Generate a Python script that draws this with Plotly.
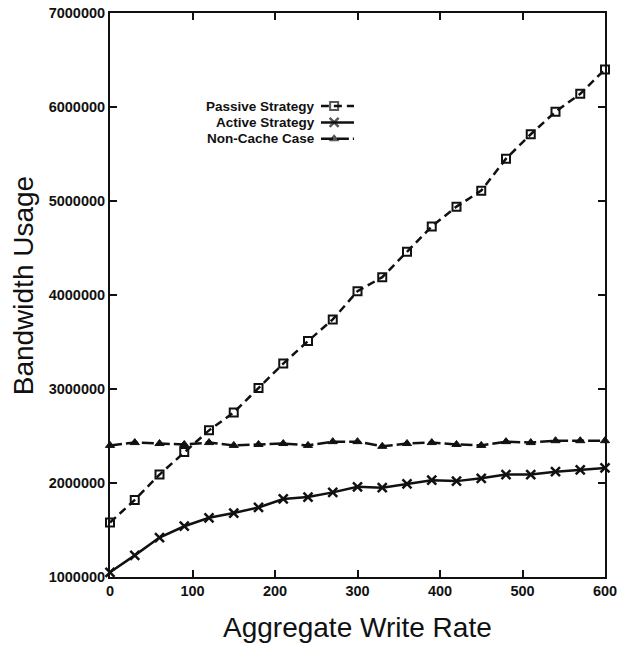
import plotly.graph_objects as go

# Aggregate write rate (x) and bandwidth usage for each strategy
write_rate = [0, 30, 60, 90, 120, 150, 180, 210, 240, 270, 300,
              330, 360, 390, 420, 450, 480, 510, 540, 570, 600]

passive = [1580000, 1820000, 2090000, 2330000, 2560000, 2750000, 3010000,
           3270000, 3510000, 3740000, 4040000, 4190000, 4460000, 4730000,
           4940000, 5110000, 5450000, 5710000, 5950000, 6140000, 6400000]

active = [1050000, 1230000, 1420000, 1540000, 1630000, 1680000, 1740000,
          1830000, 1850000, 1900000, 1960000, 1950000, 1990000, 2030000,
          2020000, 2050000, 2090000, 2090000, 2120000, 2140000, 2160000]

non_cache = [2400000, 2430000, 2420000, 2410000, 2430000, 2400000, 2410000,
             2420000, 2400000, 2440000, 2440000, 2390000, 2420000, 2430000,
             2410000, 2400000, 2440000, 2430000, 2450000, 2450000, 2450000]

series_names = ["Passive Strategy", "Active Strategy", "Non-Cache Case"]

x_ticks = [0, 100, 200, 300, 400, 500, 600]
y_ticks = [1000000, 2000000, 3000000, 4000000, 5000000, 6000000, 7000000]

x_title = "Aggregate Write Rate"
y_title = "Bandwidth Usage"

FONT = "Liberation Sans, Arial, Helvetica, sans-serif"
INK = "#111111"

styles = [
    dict(dash="8px,5px", symbol="square-open", size=8, mline=2),
    dict(dash="solid", symbol="x-thin-open", size=9, mline=2.5),
    dict(dash="12px,4px", symbol="triangle-up", size=8, mline=1),
]

fig = go.Figure()

for name, ys, st in zip(series_names, [passive, active, non_cache], styles):
    fig.add_trace(go.Scatter(
        x=write_rate, y=ys, mode="lines+markers", name=name,
        line=dict(color=INK, width=2.5, dash=st["dash"]),
        marker=dict(symbol=st["symbol"], size=st["size"], color=INK,
                    line=dict(color=INK, width=st["mline"])),
        showlegend=False, cliponaxis=False,
    ))

# Key: labels right-aligned, sample line with marker to their right
key_x0, key_x1 = 0.426, 0.493
key_top, key_step = 0.835, 0.029
for i, (name, st) in enumerate(zip(series_names, styles)):
    yk = key_top - i * key_step
    fig.add_annotation(
        xref="paper", yref="paper", x=key_x0 - 0.008, y=yk,
        text=f"<b>{name}</b>", showarrow=False, xanchor="right",
        yanchor="middle", font=dict(family=FONT, size=13.5, color=INK),
    )
    fig.add_trace(go.Scatter(
        x=[0, 0.4, 1], y=[i, i, i], xaxis="x2", yaxis="y2",
        mode="lines+markers", showlegend=False, hoverinfo="skip",
        line=dict(color=INK, width=2.5, dash=st["dash"]),
        marker=dict(symbol=st["symbol"], size=[0, st["size"], 0], color=INK,
                    line=dict(color=INK, width=st["mline"])),
    ))

# Axis titles
fig.add_annotation(xref="paper", yref="paper", x=0.5, y=-0.0904,
                   text=x_title, showarrow=False, xanchor="center",
                   yanchor="middle",
                   font=dict(family=FONT, size=28, color=INK))
fig.add_annotation(xref="paper", yref="paper", x=-0.174, y=0.517,
                   text=y_title, showarrow=False, textangle=-90,
                   xanchor="center", yanchor="middle",
                   font=dict(family=FONT, size=28, color=INK))

axis_common = dict(
    showgrid=False, zeroline=False, showline=True, mirror="allticks",
    linecolor=INK, linewidth=2, ticks="inside", ticklen=7, tickwidth=2,
    tickcolor=INK, tickfont=dict(family=FONT, size=14.5, color=INK),
    automargin=False, ticklabeloverflow="allow",
)

fig.update_layout(
    width=618, height=645,
    margin=dict(l=110, r=13, t=13, b=68),
    paper_bgcolor="white", plot_bgcolor="white",
    xaxis=dict(range=[0, 600], tickvals=x_ticks,
               ticktext=[f"<b>{v}</b>" for v in x_ticks],
               **axis_common),
    yaxis=dict(range=[1000000, 7000000], tickvals=y_ticks,
               ticktext=[f"<b>{v}</b>" for v in y_ticks],
               **axis_common),
    xaxis2=dict(domain=[key_x0, key_x1], range=[0, 1], visible=False,
                anchor="y2"),
    yaxis2=dict(domain=[key_top - 2 * key_step - 0.0145, key_top + 0.0145],
                range=[2.5, -0.5], visible=False, anchor="x2"),
)

fig.write_html("out.html")
